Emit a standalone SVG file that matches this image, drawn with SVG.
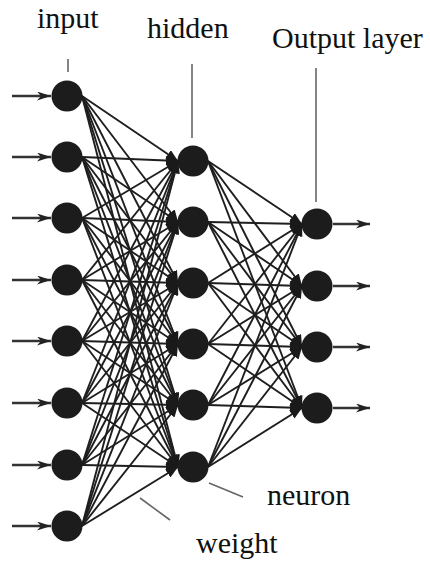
<svg xmlns="http://www.w3.org/2000/svg" width="430" height="563" viewBox="0 0 430 563">
<style>
.lbl{font-size:30px;fill:#111}
.node{fill:#1c1c1c}
.w{stroke:#1e1e1e;stroke-width:1.9;marker-end:url(#tri)}
.io{stroke:#333;stroke-width:2.4;marker-end:url(#barb)}
.ptr{stroke:#666;stroke-width:1.6}
</style>
<defs>
<marker id="tri" markerUnits="userSpaceOnUse" markerWidth="12" markerHeight="10" refX="12" refY="5" orient="auto">
<path d="M0,0 L12,5 L0,10 z" fill="#1a1a1a"/>
</marker>
<marker id="barb" markerUnits="userSpaceOnUse" markerWidth="14" markerHeight="9" refX="14" refY="4.5" orient="auto">
<path d="M0,0 L14,4.5 L0,9 L4,4.5 z" fill="#222"/>
</marker>
</defs>
<rect width="430" height="563" fill="#fff"/>
<g id="connectors">
<line class="w" x1="82" y1="96" x2="178" y2="161"/><line class="w" x1="82" y1="96" x2="178" y2="222"/><line class="w" x1="82" y1="96" x2="178" y2="283"/><line class="w" x1="82" y1="96" x2="178" y2="344"/><line class="w" x1="82" y1="96" x2="178" y2="405"/><line class="w" x1="82" y1="96" x2="178" y2="467"/>
<line class="w" x1="82" y1="157" x2="178" y2="161"/><line class="w" x1="82" y1="157" x2="178" y2="222"/><line class="w" x1="82" y1="157" x2="178" y2="283"/><line class="w" x1="82" y1="157" x2="178" y2="344"/><line class="w" x1="82" y1="157" x2="178" y2="405"/><line class="w" x1="82" y1="157" x2="178" y2="467"/>
<line class="w" x1="82" y1="218" x2="178" y2="161"/><line class="w" x1="82" y1="218" x2="178" y2="222"/><line class="w" x1="82" y1="218" x2="178" y2="283"/><line class="w" x1="82" y1="218" x2="178" y2="344"/><line class="w" x1="82" y1="218" x2="178" y2="405"/><line class="w" x1="82" y1="218" x2="178" y2="467"/>
<line class="w" x1="82" y1="280" x2="178" y2="161"/><line class="w" x1="82" y1="280" x2="178" y2="222"/><line class="w" x1="82" y1="280" x2="178" y2="283"/><line class="w" x1="82" y1="280" x2="178" y2="344"/><line class="w" x1="82" y1="280" x2="178" y2="405"/><line class="w" x1="82" y1="280" x2="178" y2="467"/>
<line class="w" x1="82" y1="341" x2="178" y2="161"/><line class="w" x1="82" y1="341" x2="178" y2="222"/><line class="w" x1="82" y1="341" x2="178" y2="283"/><line class="w" x1="82" y1="341" x2="178" y2="344"/><line class="w" x1="82" y1="341" x2="178" y2="405"/><line class="w" x1="82" y1="341" x2="178" y2="467"/>
<line class="w" x1="82" y1="403" x2="178" y2="161"/><line class="w" x1="82" y1="403" x2="178" y2="222"/><line class="w" x1="82" y1="403" x2="178" y2="283"/><line class="w" x1="82" y1="403" x2="178" y2="344"/><line class="w" x1="82" y1="403" x2="178" y2="405"/><line class="w" x1="82" y1="403" x2="178" y2="467"/>
<line class="w" x1="82" y1="465" x2="178" y2="161"/><line class="w" x1="82" y1="465" x2="178" y2="222"/><line class="w" x1="82" y1="465" x2="178" y2="283"/><line class="w" x1="82" y1="465" x2="178" y2="344"/><line class="w" x1="82" y1="465" x2="178" y2="405"/><line class="w" x1="82" y1="465" x2="178" y2="467"/>
<line class="w" x1="82" y1="526" x2="178" y2="161"/><line class="w" x1="82" y1="526" x2="178" y2="222"/><line class="w" x1="82" y1="526" x2="178" y2="283"/><line class="w" x1="82" y1="526" x2="178" y2="344"/><line class="w" x1="82" y1="526" x2="178" y2="405"/><line class="w" x1="82" y1="526" x2="178" y2="467"/>
<line class="w" x1="208" y1="161" x2="302" y2="224"/><line class="w" x1="208" y1="161" x2="302" y2="286"/><line class="w" x1="208" y1="161" x2="302" y2="347"/><line class="w" x1="208" y1="161" x2="302" y2="408"/>
<line class="w" x1="208" y1="222" x2="302" y2="224"/><line class="w" x1="208" y1="222" x2="302" y2="286"/><line class="w" x1="208" y1="222" x2="302" y2="347"/><line class="w" x1="208" y1="222" x2="302" y2="408"/>
<line class="w" x1="208" y1="283" x2="302" y2="224"/><line class="w" x1="208" y1="283" x2="302" y2="286"/><line class="w" x1="208" y1="283" x2="302" y2="347"/><line class="w" x1="208" y1="283" x2="302" y2="408"/>
<line class="w" x1="208" y1="344" x2="302" y2="224"/><line class="w" x1="208" y1="344" x2="302" y2="286"/><line class="w" x1="208" y1="344" x2="302" y2="347"/><line class="w" x1="208" y1="344" x2="302" y2="408"/>
<line class="w" x1="208" y1="405" x2="302" y2="224"/><line class="w" x1="208" y1="405" x2="302" y2="286"/><line class="w" x1="208" y1="405" x2="302" y2="347"/><line class="w" x1="208" y1="405" x2="302" y2="408"/>
<line class="w" x1="208" y1="467" x2="302" y2="224"/><line class="w" x1="208" y1="467" x2="302" y2="286"/><line class="w" x1="208" y1="467" x2="302" y2="347"/><line class="w" x1="208" y1="467" x2="302" y2="408"/>
<line class="io" x1="12" y1="96" x2="51" y2="96"/><line class="io" x1="12" y1="157" x2="51" y2="157"/><line class="io" x1="12" y1="218" x2="51" y2="218"/><line class="io" x1="12" y1="280" x2="51" y2="280"/><line class="io" x1="12" y1="341" x2="51" y2="341"/><line class="io" x1="12" y1="403" x2="51" y2="403"/><line class="io" x1="12" y1="465" x2="51" y2="465"/><line class="io" x1="12" y1="526" x2="51" y2="526"/>
<line class="io" x1="333" y1="224" x2="370" y2="224"/><line class="io" x1="333" y1="286" x2="370" y2="286"/><line class="io" x1="333" y1="347" x2="370" y2="347"/><line class="io" x1="333" y1="408" x2="370" y2="408"/>
<line class="ptr" x1="68" y1="59" x2="68" y2="72"/>
<line class="ptr" x1="192" y1="64" x2="192" y2="138"/>
<line class="ptr" x1="316" y1="68" x2="316" y2="202"/>
<line class="ptr" x1="209" y1="483" x2="243" y2="497"/>
<line class="ptr" x1="140" y1="498" x2="170" y2="520"/>
</g>
<g id="input-layer">
<circle class="node" cx="67" cy="96" r="15.5"/><circle class="node" cx="67" cy="157" r="15.5"/><circle class="node" cx="67" cy="218" r="15.5"/><circle class="node" cx="67" cy="280" r="15.5"/><circle class="node" cx="67" cy="341" r="15.5"/><circle class="node" cx="67" cy="403" r="15.5"/><circle class="node" cx="67" cy="465" r="15.5"/><circle class="node" cx="67" cy="526" r="15.5"/>
</g>
<g id="hidden-layer">
<circle class="node" cx="193" cy="161" r="15.5"/><circle class="node" cx="193" cy="222" r="15.5"/><circle class="node" cx="193" cy="283" r="15.5"/><circle class="node" cx="193" cy="344" r="15.5"/><circle class="node" cx="193" cy="405" r="15.5"/><circle class="node" cx="193" cy="467" r="15.5"/>
</g>
<g id="output-layer">
<circle class="node" cx="317" cy="224" r="15.5"/><circle class="node" cx="317" cy="286" r="15.5"/><circle class="node" cx="317" cy="347" r="15.5"/><circle class="node" cx="317" cy="408" r="15.5"/>
</g>
<g id="labels" font-family="Liberation Serif, DejaVu Serif, serif">
<text class="lbl" x="37" y="28">input</text>
<text class="lbl" x="147" y="38">hidden</text>
<text class="lbl" x="272" y="48">Output layer</text>
<text class="lbl" x="267" y="505">neuron</text>
<text class="lbl" x="196" y="553">weight</text>
</g>
</svg>
